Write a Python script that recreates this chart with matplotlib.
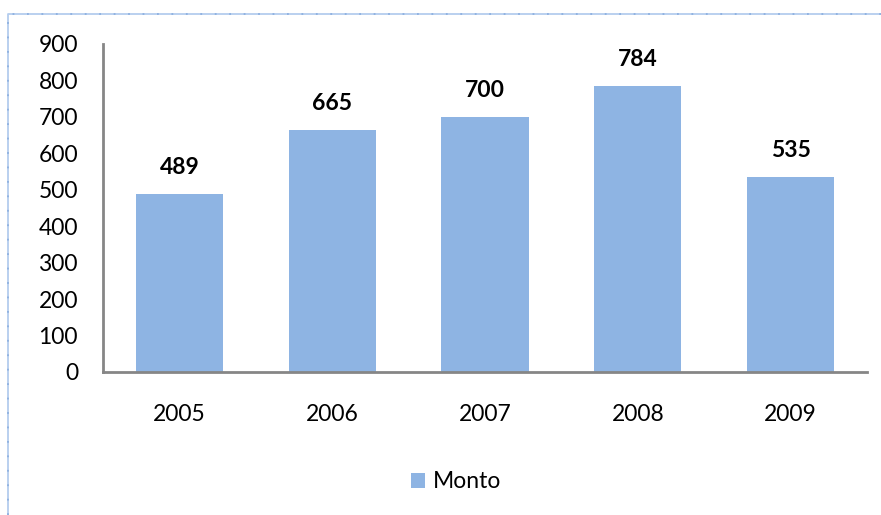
import matplotlib
matplotlib.use("Agg")
import matplotlib.pyplot as plt
from matplotlib.patches import Patch
from matplotlib.lines import Line2D

years = ["2005", "2006", "2007", "2008", "2009"]
monto = [489, 665, 700, 784, 535]
series_name = "Monto"
yticks = [0, 100, 200, 300, 400, 500, 600, 700, 800, 900]

plt.rcParams['font.family'] = ['Lato', 'DejaVu Sans']

W, H = 881, 515
fig = plt.figure(figsize=(W / 100, H / 100), dpi=100)
ax = fig.add_axes([103 / W, 1 - 372 / H, (867 - 103) / W, (372 - 44) / H])

bar_color = '#8EB4E3'
x = range(len(years))
bars = ax.bar(x, monto, width=0.57, color=bar_color, zorder=2)

ax.set_xlim(-0.5, len(years) - 0.5)
ax.set_ylim(0, 900)
ax.set_yticks(yticks)
ax.set_yticklabels([str(v) for v in yticks])
ax.set_xticks(list(x))
ax.set_xticklabels(years)

for side in ['top', 'right']:
    ax.spines[side].set_visible(False)
for side in ['left', 'bottom']:
    ax.spines[side].set_color('#868686')
    ax.spines[side].set_linewidth(2)

ax.tick_params(axis='y', length=0, pad=18, labelsize=16.5, colors='black')
ax.tick_params(axis='x', length=0, pad=23, labelsize=16.5, colors='black')

for xi, v in zip(x, monto):
    ax.annotate(str(v), (xi, v), xytext=(0, 19), textcoords='offset points',
                ha='center', va='center', fontsize=16.5, fontweight='bold')

fig.legend(handles=[Patch(facecolor=bar_color, edgecolor='none', label=series_name)],
           loc='center', bbox_to_anchor=(456 / W, 1 - 482 / H), frameon=False,
           fontsize=16.5, handlelength=0.6, handleheight=0.6, handletextpad=0.35)

# dotted chart-area border (left and top visible)
bx = 8 / W
by = 1 - 14 / H
fig.add_artist(Line2D([bx, bx, 1], [0, by, by], transform=fig.transFigure,
                      color='#B4CDEE', lw=1.3))
fig.add_artist(Line2D([bx, bx, 1], [0, by, by], transform=fig.transFigure,
                      color='#8DB0E0', lw=1.3, linestyle=(0, (1, 7))))

fig.savefig("out.png", dpi=100)
